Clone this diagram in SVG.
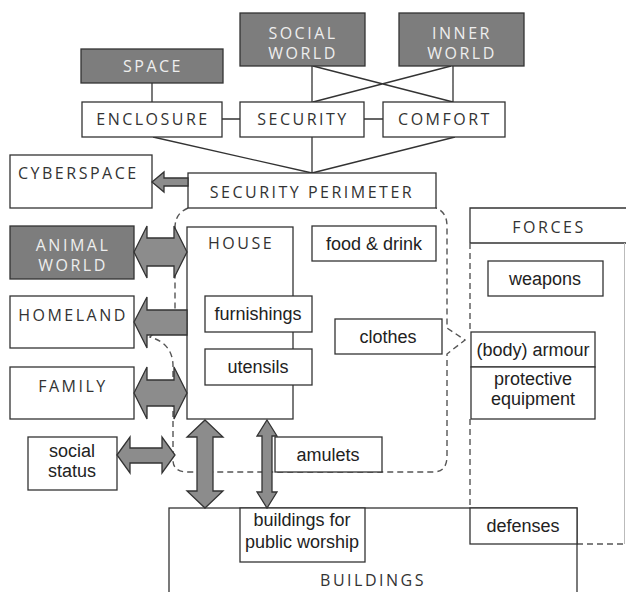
<svg xmlns="http://www.w3.org/2000/svg" width="626" height="592" viewBox="0 0 626 592">
<style>
.box{fill:#fff;stroke:#333;stroke-width:1.3}
.dark{fill:#7d7d7d;stroke:#333;stroke-width:1.3}
.cap{font-family:"Open Sans","Noto Sans",sans-serif;font-size:16px;letter-spacing:2.5px;fill:#333;text-anchor:middle}
.capw{font-family:"Open Sans","Noto Sans",sans-serif;font-size:16px;letter-spacing:2.5px;fill:#eee;text-anchor:middle}
.lc{font-family:"Liberation Sans",Arial,sans-serif;font-size:18px;fill:#222;text-anchor:middle}
.ln{fill:none;stroke:#333;stroke-width:1.3}
.dash{fill:none;stroke:#555;stroke-width:1.4;stroke-dasharray:6 4}
.arr{fill:#8c8c8c;stroke:#333;stroke-width:1.3;stroke-linejoin:miter}
</style>
<rect width="626" height="592" fill="#fff"/>
<g id="perimeter-zone">
<path class="dash" d="M188 208 C179 212 175 218 175 228 L175 312 L150 337 C164 341 173 350 173 366 L173 460 C173 468 178 472 188 472 L433 472 C443 472 447 466 447 456 L447 354 L465 340 L447 328 L447 226 C447 216 443 211 436 208"/>
</g>
<g id="forces">
<path class="ln" d="M470 243 L470 208 L626 208 M470 243 L626 243"/>
<path fill="none" stroke="#bbb" stroke-width="1" d="M624.5 243 L624.5 544"/>
<path class="dash" d="M470 243 L470 332 M470 419 L470 508"/>
<text class="cap" x="549" y="233">FORCES</text>
</g>
<g id="connectors">
<path class="ln" d="M152 83 L152 102 M312 66 L312 102 M453 66 L453 102 M313 66 L453 102 M451 66 L313 102 M222 119 L240 119 M364 119 L383 119 M153 137 L312 173 M312 137 L312 173 M455 137 L312 173"/>
<path class="dash" d="M577 544 L626 544"/>
</g>
<g id="space"><rect class="dark" x="81" y="49" width="142" height="34"/><text class="capw" x="153" y="72">SPACE</text></g>
<g id="social-world"><rect class="dark" x="240" y="13" width="125" height="53"/><text class="capw" x="303" y="39">SOCIAL</text><text class="capw" x="303" y="59">WORLD</text></g>
<g id="inner-world"><rect class="dark" x="399" y="13" width="125" height="53"/><text class="capw" x="462" y="39">INNER</text><text class="capw" x="462" y="59">WORLD</text></g>
<g id="enclosure"><rect class="box" x="82" y="102" width="140" height="35"/><text class="cap" x="153" y="125">ENCLOSURE</text></g>
<g id="security"><rect class="box" x="240" y="102" width="124" height="35"/><text class="cap" x="303" y="125">SECURITY</text></g>
<g id="comfort"><rect class="box" x="383" y="102" width="122" height="35"/><text class="cap" x="445" y="125">COMFORT</text></g>
<g id="security-perimeter"><rect class="box" x="188" y="173" width="248" height="35"/><text class="cap" x="312" y="198">SECURITY PERIMETER</text></g>
<g id="cyberspace"><rect class="box" x="10" y="155" width="142" height="53"/><text class="cap" x="18" y="179" style="text-anchor:start">CYBERSPACE</text></g>
<g id="animal-world"><rect class="dark" x="10" y="226" width="124" height="53"/><text class="capw" x="73" y="251">ANIMAL</text><text class="capw" x="73" y="271">WORLD</text></g>
<g id="homeland"><rect class="box" x="10" y="296" width="124" height="52"/><text class="cap" x="73" y="321">HOMELAND</text></g>
<g id="family"><rect class="box" x="10" y="367" width="124" height="52"/><text class="cap" x="73" y="392">FAMILY</text></g>
<g id="social-status"><rect class="box" x="28" y="437" width="89" height="53"/><text class="lc" x="72" y="457">social</text><text class="lc" x="72" y="477">status</text></g>
<g id="house"><rect class="box" x="187" y="227" width="106" height="192"/><text class="cap" x="208" y="249" style="text-anchor:start">HOUSE</text></g>
<g id="furnishings"><rect class="box" x="205" y="296" width="107" height="36"/><text class="lc" x="258" y="320">furnishings</text></g>
<g id="utensils"><rect class="box" x="205" y="349" width="107" height="36"/><text class="lc" x="258" y="373">utensils</text></g>
<g id="food-drink"><rect class="box" x="312" y="226" width="124" height="35"/><text class="lc" x="374" y="250">food &amp; drink</text></g>
<g id="clothes"><rect class="box" x="335" y="319" width="107" height="35"/><text class="lc" x="388" y="343">clothes</text></g>
<g id="weapons"><rect class="box" x="488" y="261" width="115" height="35"/><text class="lc" x="545" y="285">weapons</text></g>
<g id="body-armour"><rect class="box" x="471" y="332" width="124" height="35"/><text class="lc" x="533" y="356">(body) armour</text></g>
<g id="protective-equipment"><rect class="box" x="471" y="367" width="124" height="52"/><text class="lc" x="533" y="385">protective</text><text class="lc" x="533" y="405">equipment</text></g>
<g id="amulets"><rect class="box" x="275" y="437" width="107" height="35"/><text class="lc" x="328" y="461">amulets</text></g>
<g id="buildings"><rect class="box" x="169" y="508" width="408" height="100"/><text class="cap" x="373" y="586">BUILDINGS</text></g>
<g id="public-worship"><rect class="box" x="240" y="508" width="125" height="54"/><text class="lc" x="302" y="526">buildings for</text><text class="lc" x="302" y="548">public worship</text></g>
<g id="defenses"><rect class="box" x="470" y="508" width="107" height="36"/><text class="lc" x="523" y="532">defenses</text></g>
<g id="arrows">
<polygon class="arr" points="152,182 164,172 164,178 188,178 188,186 164,186 164,192"/>
<polygon class="arr" points="134,252 147,226 147,238 174,238 174,226 187,252 174,278 174,266 147,266 147,278"/>
<polygon class="arr" points="134,322 147,297 147,310 187,310 187,335 147,335 147,348"/>
<polygon class="arr" points="134,393 147,367 147,380 174,380 174,367 187,393 174,419 174,406 147,406 147,419"/>
<polygon class="arr" points="117,455 130,437 130,448 162,448 162,437 175,455 162,473 162,463 130,463 130,473"/>
<polygon class="arr" points="205,420 223,437 213,437 213,491 223,491 205,508 187,491 197,491 197,437 187,437"/>
<polygon class="arr" points="267,420 277,436 272,436 272,492 277,492 267,508 257,492 262,492 262,436 257,436"/>
</g>
</svg>
